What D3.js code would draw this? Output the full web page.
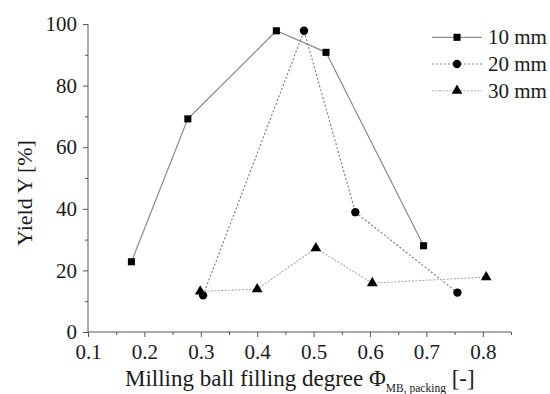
<!DOCTYPE html>
<html>
<head>
<meta charset="utf-8">
<script src="https://cdn.jsdelivr.net/npm/d3@7"></script>
<style>
body { margin: 0; background: #fff; }
svg text { font-family: "Liberation Serif", "Times New Roman", serif; }
</style>
</head>
<body>
<div id="chart"></div>
<script>
var seriesNames = ['10 mm', '20 mm', '30 mm'];
var x10 = [0.177, 0.277, 0.434, 0.522, 0.695];
var y10 = [22.8, 69.2, 97.8, 90.8, 28.0];
var x20 = [0.304, 0.483, 0.574, 0.755];
var y20 = [11.9, 97.8, 38.9, 12.8];
var x30 = [0.299, 0.400, 0.504, 0.604, 0.806];
var y30 = [13.2, 13.9, 27.2, 15.9, 17.8];
var xTicks = [0.1, 0.2, 0.3, 0.4, 0.5, 0.6, 0.7, 0.8];
var yTicks = [0, 20, 40, 60, 80, 100];

var w = 550, h = 394;
var font = 'Liberation Serif';
var fs = 21;

var svg = d3.select('#chart').append('svg')
    .attr('width', w)
    .attr('height', h)
    .attr('font-family', font);

var x = d3.scaleLinear().domain([0.1, 0.85]).range([88, 511]);
var y = d3.scaleLinear().domain([0, 100]).range([332, 24]);

var axisColor = '#555';
var textColor = '#1a1a1a';

// x axis: minor ticks then major ticks with labels
var xMinor = d3.range(0.15, 0.86, 0.1);
svg.append('g')
    .attr('transform', 'translate(0,332)')
    .call(d3.axisBottom(x).tickValues(xMinor).tickSize(3).tickFormat(''))
    .call(function(g){ g.select('.domain').remove(); g.selectAll('line').attr('stroke', axisColor); });
svg.append('g')
    .attr('transform', 'translate(0,332)')
    .call(d3.axisBottom(x).tickValues(xTicks).tickSize(5).tickPadding(7).tickFormat(d3.format('.1f')))
    .call(function(g){
        g.attr('font-family', font).attr('font-size', fs);
        g.select('.domain').attr('stroke', axisColor).attr('d', 'M88,0H511');
        g.selectAll('line').attr('stroke', axisColor);
        g.selectAll('text').attr('fill', textColor);
    });

// y axis
var yMinor = d3.range(10, 100, 20);
svg.append('g')
    .attr('transform', 'translate(88,0)')
    .call(d3.axisLeft(y).tickValues(yMinor).tickSize(3).tickFormat(''))
    .call(function(g){ g.select('.domain').remove(); g.selectAll('line').attr('stroke', axisColor); });
svg.append('g')
    .attr('transform', 'translate(88,0)')
    .call(d3.axisLeft(y).tickValues(yTicks).tickSize(5).tickPadding(6))
    .call(function(g){
        g.attr('font-family', font).attr('font-size', fs);
        g.select('.domain').attr('stroke', axisColor).attr('d', 'M0,24V332');
        g.selectAll('line').attr('stroke', axisColor);
        g.selectAll('text').attr('fill', textColor);
    });

// axis titles
svg.append('text')
    .attr('transform', 'translate(32,193) rotate(-90)')
    .attr('text-anchor', 'middle')
    .attr('font-size', 22)
    .attr('fill', textColor)
    .text('Yield Y [%]');

var xt = svg.append('text')
    .attr('x', 125)
    .attr('y', 386)
    .attr('font-size', 23)
    .attr('fill', textColor);
xt.append('tspan').text('Milling ball filling degree \u03A6');
xt.append('tspan').attr('font-size', 11.5).attr('dy', 6).text('MB, packing');
xt.append('tspan').attr('dy', -6).text(' [-]');

// series
var series = [
    {name: seriesNames[0], xs: x10, ys: y10, color: '#8a8a8a', dash: null, width: 1.2, shape: d3.symbolSquare, size: 50},
    {name: seriesNames[1], xs: x20, ys: y20, color: '#777', dash: '2,2', width: 1.1, shape: d3.symbolCircle, size: 55},
    {name: seriesNames[2], xs: x30, ys: y30, color: '#aaa', dash: '2,1.5', width: 1.1, shape: d3.symbolTriangle, size: 50}
];

var line = d3.line().x(function(d){ return x(d[0]); }).y(function(d){ return y(d[1]); });

series.forEach(function(s){
    var pts = s.xs.map(function(v, i){ return [v, s.ys[i]]; });
    svg.append('path')
        .attr('d', line(pts))
        .attr('fill', 'none')
        .attr('stroke', s.color)
        .attr('stroke-width', s.width)
        .attr('stroke-dasharray', s.dash);
    svg.selectAll(null)
        .data(pts)
        .enter()
        .append('path')
        .attr('d', d3.symbol().type(s.shape).size(s.size))
        .attr('transform', function(d){ return 'translate(' + x(d[0]) + ',' + y(d[1]) + ')'; })
        .attr('fill', '#000');
});

// legend
var legend = svg.append('g').attr('transform', 'translate(432,37.3)');
series.forEach(function(s, i){
    var g = legend.append('g').attr('transform', 'translate(0,' + (i * 26.7) + ')');
    g.append('line')
        .attr('x1', 0).attr('x2', 50)
        .attr('stroke', s.color)
        .attr('stroke-width', s.width)
        .attr('stroke-dasharray', s.dash);
    g.append('path')
        .attr('d', d3.symbol().type(s.shape).size(s.size))
        .attr('transform', 'translate(25,0)')
        .attr('fill', '#000');
    g.append('text')
        .attr('x', 56)
        .attr('y', 7)
        .attr('font-size', fs)
        .attr('fill', textColor)
        .text(s.name);
});
</script>
</body>
</html>
